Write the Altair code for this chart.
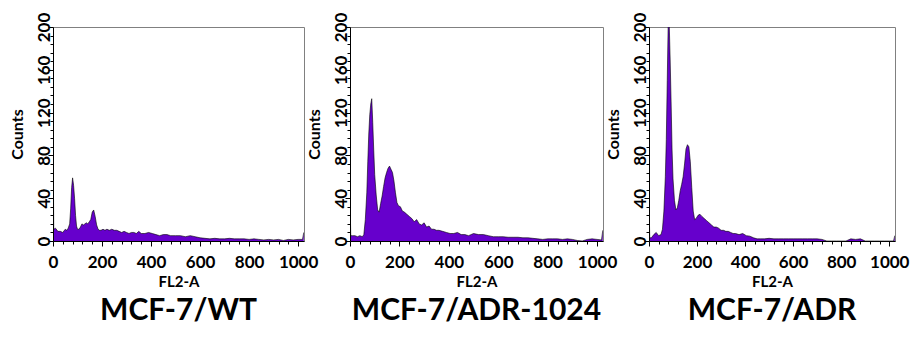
import altair as alt
import pandas as pd

# FL2-A channel positions (shared by the three histograms)
FL2 = [0, 3, 10, 20, 30, 40, 50,
       56, 62, 68, 72, 76, 80, 84, 88, 92, 96, 100,
       106, 112, 118, 124, 130, 136, 142, 148, 154, 160, 166, 172, 178, 184, 190, 196,
       204, 212, 220, 230, 240, 250, 260, 270, 280, 290, 300,
       310, 320, 330, 340, 350, 360,
       375, 390, 405, 420, 435, 450, 465, 480,
       500, 520, 540, 560, 580, 600, 620, 640, 660, 680, 700, 720, 740, 760, 780,
       800, 820, 840, 860, 880, 900, 920, 940, 960, 980, 1000,
       1018, 1023]

WT = [105, 11, 12, 9, 9, 8, 11,
      10, 12, 16, 30, 50, 59, 52, 40, 24, 14, 11,
      11, 13, 16, 15, 16, 17, 16, 18, 20, 27, 29, 23, 15, 11, 10, 10,
      11, 10, 11, 10, 11, 10, 10, 9, 8, 9, 8,
      7, 8, 8, 7, 9, 7,
      7, 8, 7, 6, 5, 6, 6, 5,
      5, 5, 4, 5, 4, 3, 2.5, 2, 2.5, 2, 2, 2.5, 2, 2, 2,
      1.5, 2, 1.5, 1, 1.5, 1, 1.5, 0.5, 1.5, 1, 1.5,
      1.5, 8]

ADR1024 = [41, 5, 5, 5, 4, 5, 4,
           6, 20, 45, 74, 100, 118, 128, 133, 111, 85, 62,
           43, 29, 27, 35, 42, 51, 59, 64, 68, 70, 67, 64, 56, 45, 36, 33,
           32, 28, 27, 25, 23, 21, 18, 20, 16, 15, 17,
           13, 14, 11, 11, 10, 10,
           9, 8, 7, 7, 8, 6, 6, 5,
           7, 6, 6, 5, 4, 4, 4, 3.5, 3.5, 3.5, 3, 3, 2.5, 2, 1.5,
           2, 2, 2, 1.5, 2, 1.5, 0.5, 0, 1.5, 2, 1.5,
           1, 10]

ADR = [40, 3, 3, 6, 8, 5, 6,
       11, 28, 60, 95, 150, 205, 205, 170, 130, 85, 58,
       38, 29, 31, 38, 47, 53, 60, 72, 86, 90, 88, 74, 50, 28, 20, 21,
       24, 25, 23, 21, 19, 17, 15, 13, 13, 12, 10,
       10, 9, 9, 8, 7, 7,
       6, 7, 5, 4.5, 3, 2, 2, 2,
       2.5, 2, 2, 2, 2, 2, 2, 2, 2, 2, 2, 1.5, 0, 0, 0,
       0, 0, 2, 1.5, 2, 0, 0, 0, 0, 0, 0,
       0, 5]

TITLES = ["MCF-7/WT", "MCF-7/ADR-1024", "MCF-7/ADR"]
X_TICKS = list(range(0, 1024, 40))      # labelled every 200
Y_TICKS = list(range(0, 201, 8))        # labelled every 40

FONT = "Lato"
PURPLE = "#6600cc"


def panel(counts, title, width):
    df = pd.DataFrame({"fl2": FL2, "counts": counts})
    xs = alt.Scale(domain=[0, 1024], nice=False, zero=False)
    ys = alt.Scale(domain=[0, 200], nice=False)
    return alt.Chart(df).mark_area(
        color=PURPLE, clip=True, opacity=1,
        line={"color": "black", "strokeWidth": 0.6},
    ).encode(
        x=alt.X("fl2:Q", scale=xs, axis=alt.Axis(
            values=X_TICKS, title="FL2-A",
            labelExpr="datum.value % 200 === 0 ? datum.label : ''",
            tickSize={"condition": {"test": "datum.value % 200 === 0", "value": 5}, "value": 3},
            labelFlush=False, labelOverlap=False, format="d",
            labelPadding=8, titlePadding=4, grid=False, orient="bottom", zindex=2)),
        y=alt.Y("counts:Q", scale=ys, axis=alt.Axis(
            values=Y_TICKS, title="Counts", format="d",
            labelExpr="datum.value % 40 === 0 ? datum.label : ''",
            tickSize={"condition": {"test": "datum.value % 40 === 0", "value": 5}, "value": 3},
            labelAngle=270, labelAlign="center", labelBaseline="alphabetic",
            labelFlush=False, labelOverlap=False,
            labelPadding=-1, titlePadding=10, grid=False, orient="left", zindex=2)),
    ).properties(
        width=width, height=214,
        title=alt.TitleParams(title, orient="bottom", fontSize=30, font=FONT,
                              fontWeight="bold", color="black", offset=7,
                              anchor="middle"),
    )


chart = alt.hconcat(
    panel(WT, TITLES[0], 251),
    panel(ADR1024, TITLES[1], 253),
    panel(ADR, TITLES[2], 246),
    spacing=46,
    bounds="flush",
).properties(
    padding={"left": 0, "top": 3, "right": 0, "bottom": 0},
    background="white",
).configure_view(
    stroke="#808080", strokeWidth=1,
).configure_axis(
    labelFont=FONT, labelFontSize=17, labelFontWeight="bold", labelColor="black",
    titleFont=FONT, titleFontWeight="bold", titleColor="black",
    domainColor="black", domainWidth=1, tickColor="black",
).configure_axisX(
    titleFontSize=15,
).configure_axisY(
    titleFontSize=16,
)

chart.save("out.html", embed_options={"renderer": "svg", "actions": False})
